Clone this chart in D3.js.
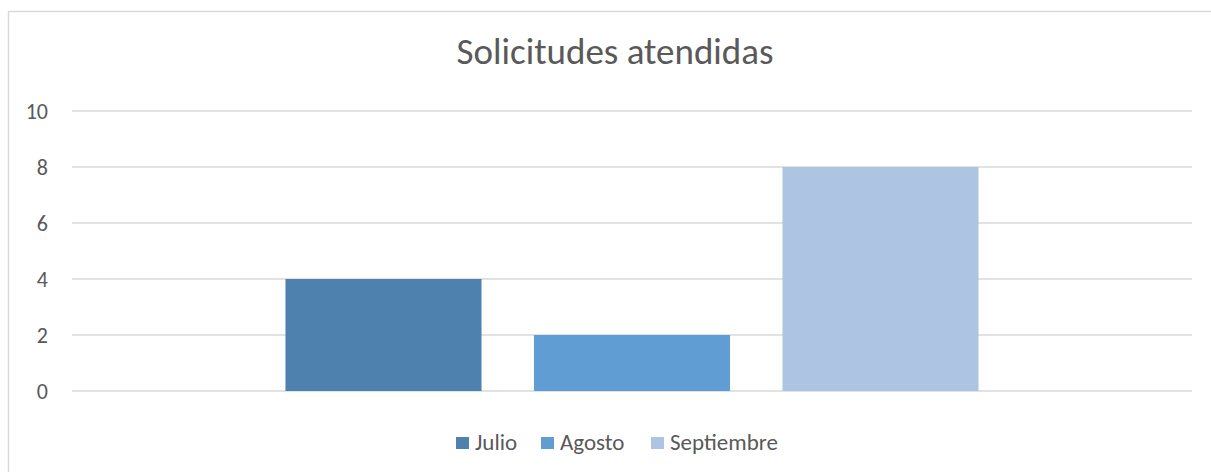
<!DOCTYPE html>
<html>
<head>
<meta charset="utf-8">
<script src="https://cdn.jsdelivr.net/npm/d3@7"></script>
<style>
  body { margin: 0; background: #fff; }
  text { font-family: Carlito, Lato, sans-serif; fill: #595959; }
</style>
</head>
<body>
<div id="chart"></div>
<script>
// Data
const categories = ["Solicitudes"];
const seriesNames = ["Julio", "Agosto", "Septiembre"];
const seriesValues = [4, 2, 8];
const yTicks = [0, 2, 4, 6, 8, 10];
const colors = ["#4f81ae", "#5f9dd2", "#adc5e3"];

const W = 1211, H = 472;
const margin = {top: 111, right: 19, bottom: 81, left: 72};
const width = W - margin.left - margin.right,
      height = H - margin.top - margin.bottom;

const svg = d3.select("#chart").append("svg")
    .attr("width", W)
    .attr("height", H);

// Outer chart border (only left and top visible in frame)
svg.append("rect")
    .attr("x", 8.5).attr("y", 11.5)
    .attr("width", 1240).attr("height", 500)
    .attr("fill", "none")
    .attr("stroke", "#d9d9d9")
    .attr("stroke-width", 1.5);

// Title
svg.append("text")
    .attr("x", 615).attr("y", 64)
    .attr("text-anchor", "middle")
    .style("font-size", "37px")
    .text("Solicitudes atendidas");

const g = svg.append("g")
    .attr("transform", `translate(${margin.left},${margin.top})`);

const y = d3.scaleLinear().domain([0, 10]).range([height, 0]);

const x0 = d3.scaleBand()
    .domain(categories)
    .range([0, width])
    .paddingInner(0)
    .paddingOuter(0.308);

const x1 = d3.scaleBand()
    .domain(seriesNames)
    .range([0, x0.bandwidth()])
    .paddingInner(0.211)
    .paddingOuter(0);

const color = d3.scaleOrdinal().domain(seriesNames).range(colors);

// Gridlines
g.selectAll(".grid")
    .data(yTicks)
    .enter().append("line")
    .attr("x1", 0).attr("x2", width)
    .attr("y1", d => y(d)).attr("y2", d => y(d))
    .attr("stroke", "#d9d9d9")
    .attr("stroke-width", 1.5);

// Y axis labels
const yAxis = g.append("g")
    .call(d3.axisLeft(y).tickValues(yTicks).tickSize(0).tickPadding(24));
yAxis.select(".domain").remove();
yAxis.selectAll("text")
    .style("font-size", "22px")
    .style("font-family", "Carlito, Lato, sans-serif")
    .attr("fill", "#595959");

// Bars
const rows = seriesNames.map((name, i) => ({name: name, value: seriesValues[i]}));
g.append("g")
    .attr("transform", `translate(${x0(categories[0])},0)`)
    .selectAll("rect")
    .data(rows)
    .enter().append("rect")
    .attr("x", d => x1(d.name))
    .attr("y", d => y(d.value))
    .attr("width", x1.bandwidth())
    .attr("height", d => height - y(d.value))
    .attr("fill", d => color(d.name));

// Legend
const legendX = [456, 541, 651];
const legend = svg.append("g");
rows.forEach((d, i) => {
    legend.append("rect")
        .attr("x", legendX[i]).attr("y", 437)
        .attr("width", 13).attr("height", 12)
        .attr("fill", color(d.name));
    legend.append("text")
        .attr("x", legendX[i] + 19).attr("y", 449.5)
        .style("font-size", "23px")
        .text(d.name);
});
</script>
</body>
</html>
